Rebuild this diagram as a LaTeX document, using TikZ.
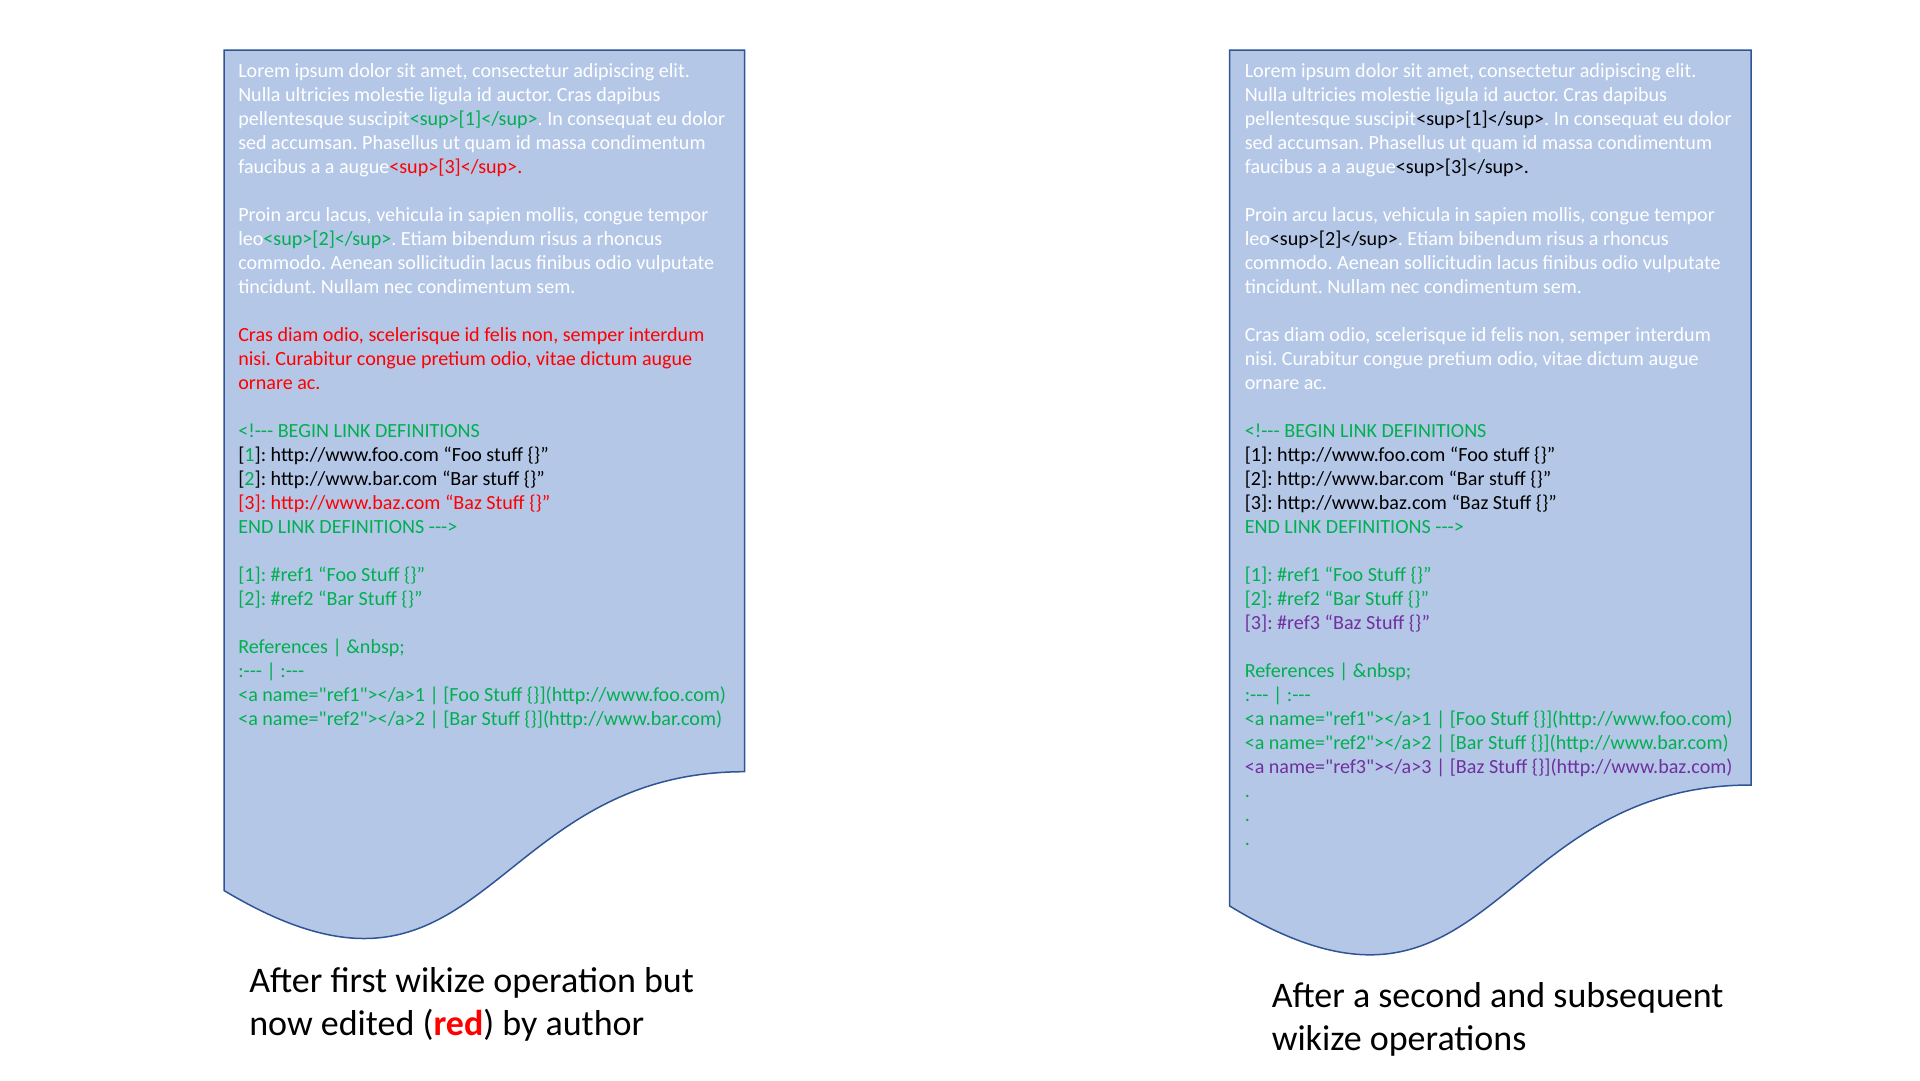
\documentclass[tikz,border=0pt]{standalone}
\usepackage{fontspec}
\newfontfamily\carlito{Carlito}
\usepackage{tikz}

\definecolor{docfill}{HTML}{B4C7E7}
\definecolor{docline}{HTML}{2F5597}
\definecolor{mdgreen}{HTML}{00B050}
\definecolor{mdred}{HTML}{FF0000}
\definecolor{mdpurple}{HTML}{7030A0}

\begin{document}
\frenchspacing
\begin{tikzpicture}[x=1pt, y=-1pt, line width=1.5pt,
    doc/.style={draw=docline, fill=docfill},
    body/.style={anchor=base west, inner sep=0pt, align=left, text=white,
      font=\carlito\fontsize{20.1}{24}\selectfont},
    caption/.style={anchor=base west, inner sep=0pt, align=left,
      font=\carlito\fontsize{36}{43}\selectfont}]

    \useasboundingbox (0,0) rectangle (1920,1080);

    % after first wikize, edited
    \draw[doc] (224,50) -- (744.5,50) -- (744.5,771.7)
      .. controls (484.2,771.7) and (484.2,1046.7) .. (224,890.5) -- cycle;

    % after second wikize
    \draw[doc] (1229.5,50) -- (1751,50) -- (1751,785)
      .. controls (1490.2,785) and (1490.2,1065) .. (1229.5,905.9) -- cycle;

    % base anchor sits on the last line
    \node[body] (oldtext) at (237.5,725) {Lorem ipsum dolor sit amet, consectetur adipiscing elit.\\
      Nulla ultricies molestie ligula id auctor. Cras dapibus\\
      pellentesque suscipit\textcolor{mdgreen}{<sup>[1]</sup>}. In consequat eu dolor\\
      sed accumsan. Phasellus ut quam id massa condimentum\\
      faucibus a a augue\textcolor{mdred}{<sup>[3]</sup>.}\\[24pt]
      Proin arcu lacus, vehicula in sapien mollis, congue tempor\\
      leo\textcolor{mdgreen}{<sup>[2]</sup>}. Etiam bibendum risus a rhoncus\\
      commodo. Aenean sollicitudin lacus finibus odio vulputate\\
      tincidunt. Nullam nec condimentum sem.\\[24pt]
      \textcolor{mdred}{Cras diam odio, scelerisque id felis non, semper interdum}\\
      \textcolor{mdred}{nisi. Curabitur congue pretium odio, vitae dictum augue}\\
      \textcolor{mdred}{ornare ac.}\\[24pt]
      \textcolor{mdgreen}{<!--- BEGIN LINK DEFINITIONS}\\
      \textcolor{black}{[\textcolor{mdgreen}{1}]: http://www.foo.com “Foo stuff \{\}”}\\
      \textcolor{black}{[\textcolor{mdgreen}{2}]: http://www.bar.com “Bar stuff \{\}”}\\
      \textcolor{mdred}{[3]: http://www.baz.com “Baz Stuff \{\}”}\\
      \textcolor{mdgreen}{END LINK DEFINITIONS --->}\\[24pt]
      \textcolor{mdgreen}{[1]: \#ref1 “Foo Stuff \{\}”}\\
      \textcolor{mdgreen}{[2]: \#ref2 “Bar Stuff \{\}”}\\[24pt]
      \textcolor{mdgreen}{References | \&nbsp;}\\
      \textcolor{mdgreen}{:--- | :---}\\
      \textcolor{mdgreen}{<a name="ref1"></a>1 | [Foo Stuff \{\}](http://www.foo.com)}\\
      \textcolor{mdgreen}{<a name="ref2"></a>2 | [Bar Stuff \{\}](http://www.bar.com)}};

    \node[body] (newtext) at (1244,845) {Lorem ipsum dolor sit amet, consectetur adipiscing elit.\\
      Nulla ultricies molestie ligula id auctor. Cras dapibus\\
      pellentesque suscipit\textcolor{black}{<sup>[1]</sup>}. In consequat eu dolor\\
      sed accumsan. Phasellus ut quam id massa condimentum\\
      faucibus a a augue\textcolor{black}{<sup>[3]</sup>.}\\[24pt]
      Proin arcu lacus, vehicula in sapien mollis, congue tempor\\
      leo\textcolor{black}{<sup>[2]</sup>}. Etiam bibendum risus a rhoncus\\
      commodo. Aenean sollicitudin lacus finibus odio vulputate\\
      tincidunt. Nullam nec condimentum sem.\\[24pt]
      Cras diam odio, scelerisque id felis non, semper interdum\\
      nisi. Curabitur congue pretium odio, vitae dictum augue\\
      ornare ac.\\[24pt]
      \textcolor{mdgreen}{<!--- BEGIN LINK DEFINITIONS}\\
      \textcolor{black}{[1]: http://www.foo.com “Foo stuff \{\}”}\\
      \textcolor{black}{[2]: http://www.bar.com “Bar stuff \{\}”}\\
      \textcolor{black}{[3]: http://www.baz.com “Baz Stuff \{\}”}\\
      \textcolor{mdgreen}{END LINK DEFINITIONS --->}\\[24pt]
      \textcolor{mdgreen}{[1]: \#ref1 “Foo Stuff \{\}”}\\
      \textcolor{mdgreen}{[2]: \#ref2 “Bar Stuff \{\}”}\\
      \textcolor{mdpurple}{[3]: \#ref3 “Baz Stuff \{\}”}\\[24pt]
      \textcolor{mdgreen}{References | \&nbsp;}\\
      \textcolor{mdgreen}{:--- | :---}\\
      \textcolor{mdgreen}{<a name="ref1"></a>1 | [Foo Stuff \{\}](http://www.foo.com)}\\
      \textcolor{mdgreen}{<a name="ref2"></a>2 | [Bar Stuff \{\}](http://www.bar.com)}\\
      \textcolor{mdpurple}{<a name="ref3"></a>3 | [Baz Stuff \{\}](http://www.baz.com)}\\
      \textcolor{mdgreen}{.}\\
      \textcolor{mdgreen}{.}\\
      \textcolor{mdgreen}{.}};

    \node[caption] (oldcap) at (248.5,1035) {After first wikize operation but\\
      now edited (\textbf{\textcolor{mdred}{red}}) by author};
    \node[caption] (newcap) at (1271,1050) {After a second and subsequent\\
      wikize operations};
\end{tikzpicture}
\end{document}
